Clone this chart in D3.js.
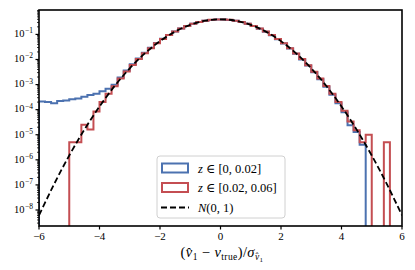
<!DOCTYPE html>
<html>
<head>
<meta charset="utf-8">
<script src="https://cdn.jsdelivr.net/npm/d3@7"></script>
<style>
  body { margin: 0; background: #fff; }
  text { font-family: "Liberation Serif", "DejaVu Serif", serif; fill: #000; }
</style>
</head>
<body>
<svg id="chart" width="415" height="270"></svg>
<script>
// --- data ---
const binEdges = [
  -6.0, -5.8, -5.6, -5.4, -5.2, -5.0, -4.8, -4.6, -4.4, -4.2,
  -4.0, -3.8, -3.6, -3.4, -3.2, -3.0, -2.8, -2.6, -2.4, -2.2,
  -2.0, -1.8, -1.6, -1.4, -1.2, -1.0, -0.8, -0.6, -0.4, -0.2,
   0.0,  0.2,  0.4,  0.6,  0.8,  1.0,  1.2,  1.4,  1.6,  1.8,
   2.0,  2.2,  2.4,  2.6,  2.8,  3.0,  3.2,  3.4,  3.6,  3.8,
   4.0,  4.2,  4.4,  4.6,  4.8,  5.0,  5.2,  5.4,  5.6,  5.8, 6.0
];

// density, z in [0, 0.02]
const densLow = [
  2.1e-4, 2.0e-4, 1.8e-4, 2.2e-4, 2.3e-4, 2.6e-4, 2.8e-4, 3.3e-4, 3.8e-4, 4.3e-4,
  5.4e-4, 6.8e-4, 9.8e-4, 1.9e-3, 3.6e-3, 6.4e-3, 1.10e-2, 1.84e-2, 2.92e-2, 4.50e-2,
  6.65e-2, 9.50e-2, 0.1305, 0.1720, 0.2180, 0.2655, 0.3110, 0.3500, 0.3790, 0.3945,
  0.3945, 0.3785, 0.3490, 0.3095, 0.2635, 0.2155, 0.1695, 0.1280, 0.0928, 0.0645,
  0.0431, 0.0276, 0.0170, 0.0100, 5.7e-3, 3.1e-3, 1.62e-3, 8.1e-4, 3.9e-4, 1.8e-4,
  7.8e-5, 2.4e-5, 1.3e-5, 4.0e-6, 0, 0, 0, 0, 0, 0
];

// density, z in [0.02, 0.06]
const densHigh = [
  0, 0, 0, 0, 0, 5e-6, 5e-6, 2.5e-5, 1.6e-5, 8.5e-5,
  2.0e-4, 4.3e-4, 8.6e-4, 1.75e-3, 3.3e-3, 6.0e-3, 1.04e-2, 1.76e-2, 2.83e-2, 4.40e-2,
  6.55e-2, 9.40e-2, 0.1295, 0.1712, 0.2178, 0.2660, 0.3122, 0.3520, 0.3814, 0.3969,
  0.3970, 0.3812, 0.3521, 0.3123, 0.2661, 0.2178, 0.1714, 0.1296, 0.0941, 0.0656,
  0.0440, 0.0283, 0.0175, 0.0104, 5.95e-3, 3.27e-3, 1.73e-3, 8.7e-4, 4.3e-4, 2.0e-4,
  9.0e-5, 3.4e-5, 1.5e-5, 5.0e-6, 1.0e-5, 0, 0, 5e-6, 0, 0
];

// N(0,1) reference curve
const normX = [-6, -5.5, -5, -4.5, -4, -3.5, -3, -2.5, -2, -1.5, -1, -0.5, 0,
               0.5, 1, 1.5, 2, 2.5, 3, 3.5, 4, 4.5, 5, 5.5, 6];
const normPdf = [6.0759e-9, 1.0769e-7, 1.4867e-6, 1.5984e-5, 1.3383e-4, 8.7268e-4,
                 4.4318e-3, 1.7528e-2, 5.3991e-2, 0.12952, 0.24197, 0.35207, 0.39894,
                 0.35207, 0.24197, 0.12952, 5.3991e-2, 1.7528e-2, 4.4318e-3, 8.7268e-4,
                 1.3383e-4, 1.5984e-5, 1.4867e-6, 1.0769e-7, 6.0759e-9];

const xTicks = [-6, -4, -2, 0, 2, 4, 6];
const yTickExps = [-8, -7, -6, -5, -4, -3, -2, -1];

const colLow = "#4c72b0", colHigh = "#c44e52";

// --- layout ---
const svg = d3.select("#chart");
const L = 39, R = 402, T = 10, B = 226;

const x = d3.scaleLinear().domain([-6, 6]).range([L, R]);
const y = d3.scaleLog().domain([2.3e-9, 0.94]).range([B, T]);

svg.append("defs").append("clipPath").attr("id", "plotclip")
  .append("rect").attr("x", L).attr("y", T).attr("width", R - L).attr("height", B - T);

const plot = svg.append("g").attr("clip-path", "url(#plotclip)");

// step outline like histtype='step'
function stepPath(vals) {
  const yb = B + 30;
  let p = `M${x(binEdges[0])},${yb}`;
  vals.forEach((v, i) => {
    const yy = v > 0 ? y(v) : yb;
    p += `L${x(binEdges[i])},${yy}L${x(binEdges[i + 1])},${yy}`;
  });
  p += `L${x(binEdges[binEdges.length - 1])},${yb}`;
  return p;
}

plot.append("path").attr("d", stepPath(densLow))
  .attr("fill", "none").attr("stroke", colLow).attr("stroke-width", 2);
plot.append("path").attr("d", stepPath(densHigh))
  .attr("fill", "none").attr("stroke", colHigh).attr("stroke-width", 2);

const line = d3.line()
  .x((d, i) => x(normX[i]))
  .y(d => y(d))
  .curve(d3.curveNatural);
plot.append("path").attr("d", line(normPdf))
  .attr("fill", "none").attr("stroke", "#000").attr("stroke-width", 1.8)
  .attr("stroke-dasharray", "6,3");

// --- axes ---
const ax = svg.append("g");
xTicks.forEach(t => {
  ax.append("line").attr("x1", x(t)).attr("x2", x(t)).attr("y1", B).attr("y2", B + 3.5)
    .attr("stroke", "#000").attr("stroke-width", 1.2);
  ax.append("text").attr("x", x(t)).attr("y", 240).attr("text-anchor", "middle")
    .style("font-size", "11px").text(t < 0 ? "\u2212" + Math.abs(t) : t);
});

// minor y ticks
d3.range(-9, 0).forEach(e => {
  for (let k = 2; k <= 9; k++) {
    const v = k * Math.pow(10, e);
    if (v < y.domain()[0] || v > y.domain()[1]) continue;
    ax.append("line").attr("x1", L - 2).attr("x2", L).attr("y1", y(v)).attr("y2", y(v))
      .attr("stroke", "#000").attr("stroke-width", 0.8);
  }
});

yTickExps.forEach(e => {
  const v = Math.pow(10, e);
  ax.append("line").attr("x1", L - 3.5).attr("x2", L).attr("y1", y(v)).attr("y2", y(v))
    .attr("stroke", "#000").attr("stroke-width", 1.2);
  const t = ax.append("text").attr("x", 33).attr("y", y(v) + 2.8)
    .attr("text-anchor", "end").style("font-size", "10.5px");
  t.append("tspan").text("10");
  t.append("tspan").attr("dx", 0.5).attr("dy", -3.8).style("font-size", "7.5px")
    .text("\u2212" + Math.abs(e));
});

// frame
svg.append("rect").attr("x", L).attr("y", T).attr("width", R - L).attr("height", B - T)
  .attr("fill", "none").attr("stroke", "#000").attr("stroke-width", 1.6);

// x label
const xl = svg.append("text").attr("x", 222).attr("y", 257)
  .attr("text-anchor", "middle").style("font-size", "14.5px").style("letter-spacing", "0.4px");
xl.append("tspan").text("(");
xl.append("tspan").style("font-style", "italic").text("v\u0302");
xl.append("tspan").attr("dy", 3).style("font-size", "9.5px").text("1");
xl.append("tspan").attr("dy", -3).text(" \u2212 ");
xl.append("tspan").style("font-style", "italic").text("v");
xl.append("tspan").attr("dy", 3).style("font-size", "9.5px").text("true");
xl.append("tspan").attr("dy", -3).text(")/");
xl.append("tspan").style("font-style", "italic").text("\u03c3");
xl.append("tspan").attr("dy", 3).style("font-size", "9.5px").style("font-style", "italic").text("v\u0302");
xl.append("tspan").attr("dy", 1.5).style("font-size", "7px").text("1");

// --- legend ---
const lg = svg.append("g");
lg.append("rect").attr("x", 157).attr("y", 156).attr("width", 128).attr("height", 62)
  .attr("rx", 3).attr("fill", "#fff").attr("fill-opacity", 0.85)
  .attr("stroke", "#d0d0d0").attr("stroke-width", 1);

const legendRows = [
  { col: colLow, label: ["z", " \u2208 [0, 0.02]"], kind: "patch", cy: 168 },
  { col: colHigh, label: ["z", " \u2208 [0.02, 0.06]"], kind: "patch", cy: 187.5 },
  { col: "#000", label: ["N", "(0, 1)"], kind: "line", cy: 207.5 }
];
legendRows.forEach(r => {
  if (r.kind === "patch") {
    lg.append("rect").attr("x", 162).attr("y", r.cy - 4.5).attr("width", 26).attr("height", 9)
      .attr("fill", "none").attr("stroke", r.col).attr("stroke-width", 2);
  } else {
    lg.append("line").attr("x1", 161).attr("x2", 189).attr("y1", r.cy).attr("y2", r.cy)
      .attr("stroke", "#000").attr("stroke-width", 1.8).attr("stroke-dasharray", "6,3");
  }
  const t = lg.append("text").attr("x", 198).attr("y", r.cy + 4.5).style("font-size", "12.5px");
  t.append("tspan").style("font-style", "italic").text(r.label[0]);
  t.append("tspan").text(r.label[1]);
});
</script>
</body>
</html>
